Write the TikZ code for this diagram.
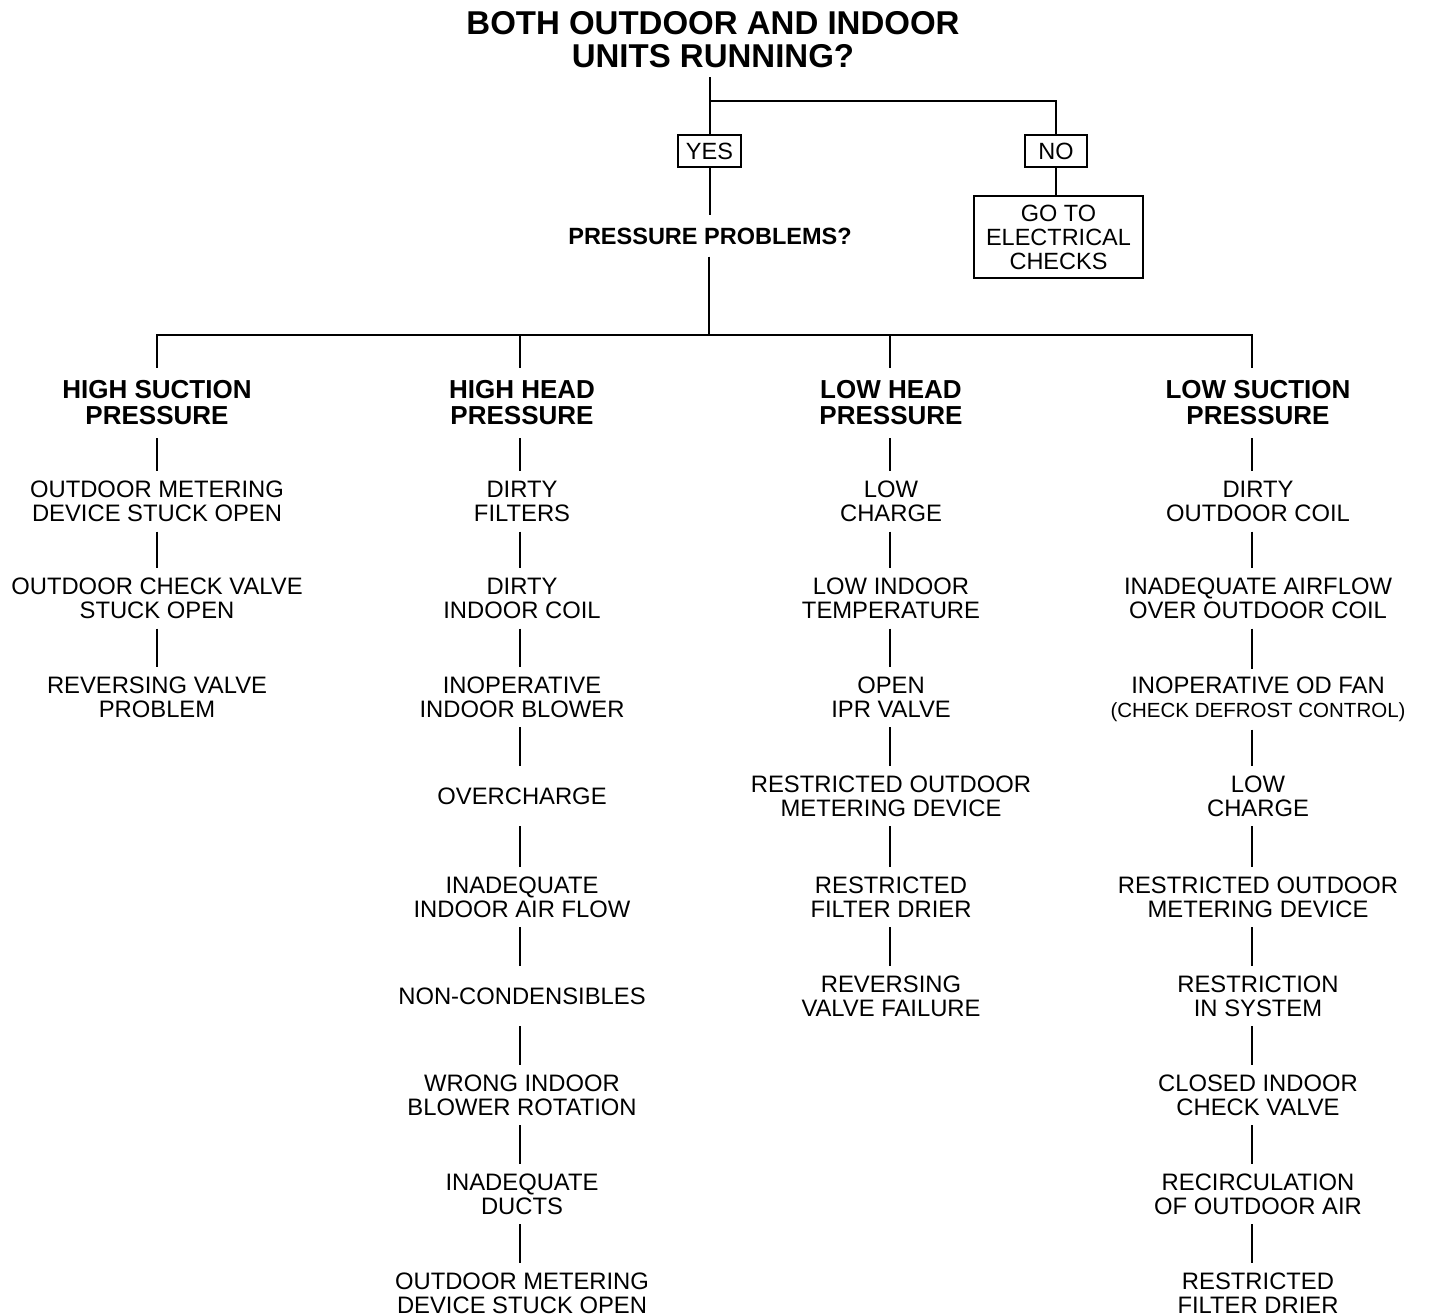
\documentclass[tikz,border=0pt]{standalone}
\usepackage{fontspec}
\setmainfont{Liberation Sans}
\begin{document}
\begin{tikzpicture}[x=1pt,y=-1pt,
  link/.style={line width=2pt},
  box/.style={draw, line width=1.2pt, inner sep=0pt, align=center,
    font=\fontsize{23.5}{24}\selectfont},
  item/.style={inner sep=0pt, align=center, minimum height=60pt,
    font=\fontsize{23.8}{24}\selectfont},
  head/.style={inner sep=0pt, align=center, minimum height=70pt,
    font=\bfseries\fontsize{26}{26}\selectfont}]
\useasboundingbox (0,0) rectangle (1429,1316);

% question at the top and the yes/no split
\node[inner sep=0pt, align=center, font=\bfseries\fontsize{33}{33}\selectfont]
  (title) at (713,40) {BOTH OUTDOOR AND INDOOR\\UNITS RUNNING?};
\node[box, minimum width=63pt, minimum height=32pt] (yes) at (709.5,151) {YES};
\node[box, minimum width=62pt, minimum height=32pt] (no) at (1056,151) {NO};
\node[box, minimum width=169pt, minimum height=82pt] (elec) at (1058.5,237)
  {GO TO\\ELECTRICAL\\CHECKS};
\node[inner sep=0pt, minimum height=41pt, font=\bfseries\fontsize{23.5}{24}\selectfont]
  (pp) at (710,236) {PRESSURE PROBLEMS?};

\coordinate (split) at (709,101);
\coordinate (bar) at (709,335);
\coordinate (L1) at (157,335);
\coordinate (L2) at (520,335);
\coordinate (L3) at (890,335);
\coordinate (L4) at (1252,335);

\draw[link] ([yshift=-9pt]title.south -| yes.north) -- (yes.north);
\draw[link] (split) -| (no.north);
\draw[link] (no.south) -- (no.south |- elec.north);
\draw[link] (yes.south) -- (yes.south |- pp.north);
\draw[link] (pp.south -| bar) -- (bar);

% column headings
\node[head] (h1) at (157,403) {HIGH SUCTION\\PRESSURE};
\node[head] (h2) at (522,403) {HIGH HEAD\\PRESSURE};
\node[head] (h3) at (891,403) {LOW HEAD\\PRESSURE};
\node[head] (h4) at (1258,403) {LOW SUCTION\\PRESSURE};

\draw[link] (L1 |- h1.north) -- (L1) -- (L4) -- (L4 |- h4.north);
\draw[link] (L2) -- (L2 |- h2.north);
\draw[link] (L3) -- (L3 |- h3.north);

% high suction pressure
\node[item] (c1r1) at (157,501.5) {OUTDOOR METERING\\DEVICE STUCK OPEN};
\node[item] (c1r2) at (157,598.5) {OUTDOOR CHECK VALVE\\STUCK OPEN};
\node[item] (c1r3) at (157,697) {REVERSING VALVE\\PROBLEM};

% high head pressure
\node[item] (c2r1) at (522,501.5) {DIRTY\\FILTERS};
\node[item] (c2r2) at (522,598.5) {DIRTY\\INDOOR COIL};
\node[item] (c2r3) at (522,697) {INOPERATIVE\\INDOOR BLOWER};
\node[item] (c2r4) at (522,796) {OVERCHARGE};
\node[item] (c2r5) at (522,897) {INADEQUATE\\INDOOR AIR FLOW};
\node[item] (c2r6) at (522,996) {NON-CONDENSIBLES};
\node[item] (c2r7) at (522,1095) {WRONG INDOOR\\BLOWER ROTATION};
\node[item] (c2r8) at (522,1194) {INADEQUATE\\DUCTS};
\node[item] (c2r9) at (522,1293) {OUTDOOR METERING\\DEVICE STUCK OPEN};

% low head pressure
\node[item] (c3r1) at (891,501.5) {LOW\\CHARGE};
\node[item] (c3r2) at (891,598.5) {LOW INDOOR\\TEMPERATURE};
\node[item] (c3r3) at (891,697) {OPEN\\IPR VALVE};
\node[item] (c3r4) at (891,796) {RESTRICTED OUTDOOR\\METERING DEVICE};
\node[item] (c3r5) at (891,897) {RESTRICTED\\FILTER DRIER};
\node[item] (c3r6) at (891,996) {REVERSING\\VALVE FAILURE};

% low suction pressure
\node[item] (c4r1) at (1258,501.5) {DIRTY\\OUTDOOR COIL};
\node[item] (c4r2) at (1258,598.5) {INADEQUATE AIRFLOW\\OVER OUTDOOR COIL};
\node[item] (c4r3) at (1258,699.5) {INOPERATIVE OD FAN\\{\fontsize{20.5}{24}\selectfont (CHECK DEFROST CONTROL)}};
\node[item] (c4r4) at (1258,796) {LOW\\CHARGE};
\node[item] (c4r5) at (1258,897) {RESTRICTED OUTDOOR\\METERING DEVICE};
\node[item] (c4r6) at (1258,996) {RESTRICTION\\IN SYSTEM};
\node[item] (c4r7) at (1258,1095) {CLOSED INDOOR\\CHECK VALVE};
\node[item] (c4r8) at (1258,1194) {RECIRCULATION\\OF OUTDOOR AIR};
\node[item] (c4r9) at (1258,1293) {RESTRICTED\\FILTER DRIER};

% vertical links down each column
\foreach \c/\n in {1/3,2/9,3/6,4/9} {
  \draw[link] (h\c.south -| L\c) -- (c\c r1.north -| L\c);
  \foreach \r in {2,...,\n} {
    \pgfmathtruncatemacro{\p}{\r-1}
    \draw[link] (c\c r\p.south -| L\c) -- (c\c r\r.north -| L\c);
  }
}
\end{tikzpicture}
\end{document}
